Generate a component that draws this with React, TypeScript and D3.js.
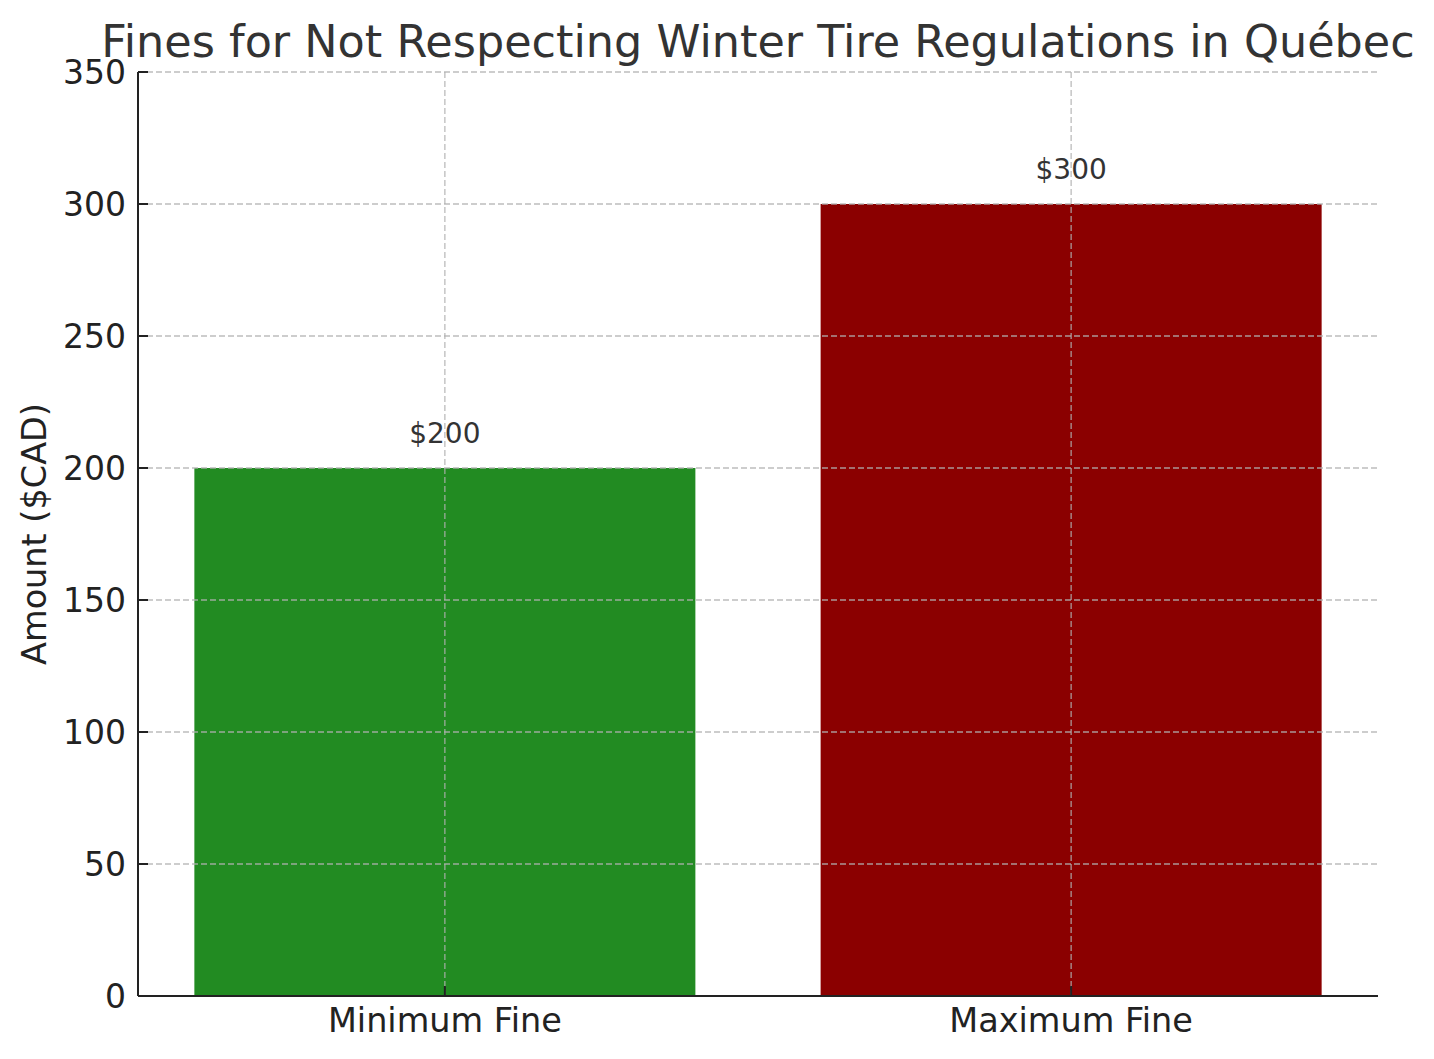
import * as d3 from 'd3';

const categories = ['Minimum Fine', 'Maximum Fine'];
const fines = [200, 300];
const barColors = ['#228b22', '#8b0000'];
const yTicks = [0, 50, 100, 150, 200, 250, 300, 350];

const W = 1434;
const H = 1059;
const margin = { top: 72, right: 56, bottom: 63, left: 138 };
const font = '"DejaVu Sans", sans-serif';

export default function App() {
  const innerW = W - margin.left - margin.right;
  const innerH = H - margin.top - margin.bottom;

  const x = d3.scaleLinear().domain([-0.49, categories.length - 1 + 0.49]).range([0, innerW]);
  const y = d3.scaleLinear().domain([0, 350]).range([innerH, 0]);
  const barW = x(0.8) - x(0);

  return (
    <svg width={W} height={H} style={{ position: 'absolute', left: 0, top: 0, background: '#fff' }}>
      <text x={margin.left + innerW / 2} y={57} textAnchor="middle" fontFamily={font} fontSize={44.5} fill="#333">
        Fines for Not Respecting Winter Tire Regulations in Québec
      </text>
      <g transform={`translate(${margin.left},${margin.top})`}>
        {categories.map((c, i) => (
          <rect key={c} x={x(i) - barW / 2} y={y(fines[i])} width={barW} height={innerH - y(fines[i])} fill={barColors[i]} />
        ))}
        {/* grid on top of bars */}
        {yTicks.map(t => (
          <line key={t} x1={0} x2={innerW} y1={y(t)} y2={y(t)} stroke="#b0b0b0" strokeOpacity={0.85} strokeWidth={1.3} strokeDasharray="6,3" />
        ))}
        {categories.map((c, i) => (
          <line key={c} x1={x(i)} x2={x(i)} y1={0} y2={innerH} stroke="#b0b0b0" strokeOpacity={0.85} strokeWidth={1.3} strokeDasharray="6,3" />
        ))}
        {categories.map((c, i) => (
          <text key={c} x={x(i)} y={y(fines[i]) - 25} textAnchor="middle" fontFamily={font} fontSize={28} fill="#333">
            ${fines[i]}
          </text>
        ))}
        {/* axes */}
        <line x1={0} x2={0} y1={0} y2={innerH} stroke="#222" strokeWidth={2} />
        <line x1={0} x2={innerW} y1={innerH} y2={innerH} stroke="#222" strokeWidth={2} />
        {yTicks.map(t => (
          <g key={t}>
            <line x1={0} x2={10} y1={y(t)} y2={y(t)} stroke="#222" strokeWidth={2} />
            <text x={-12} y={y(t)} dy="0.35em" textAnchor="end" fontFamily={font} fontSize={33} fill="#222">
              {t}
            </text>
          </g>
        ))}
        {categories.map((c, i) => (
          <g key={c}>
            <line x1={x(i)} x2={x(i)} y1={innerH} y2={innerH - 10} stroke="#222" strokeWidth={2} />
            <text x={x(i)} y={innerH + 36} textAnchor="middle" fontFamily={font} fontSize={33.5} fill="#222">
              {c}
            </text>
          </g>
        ))}
        <text transform={`translate(${-92},${innerH / 2}) rotate(-90)`} textAnchor="middle" fontFamily={font} fontSize={33.5} fill="#222">
          Amount ($CAD)
        </text>
      </g>
    </svg>
  );
}
